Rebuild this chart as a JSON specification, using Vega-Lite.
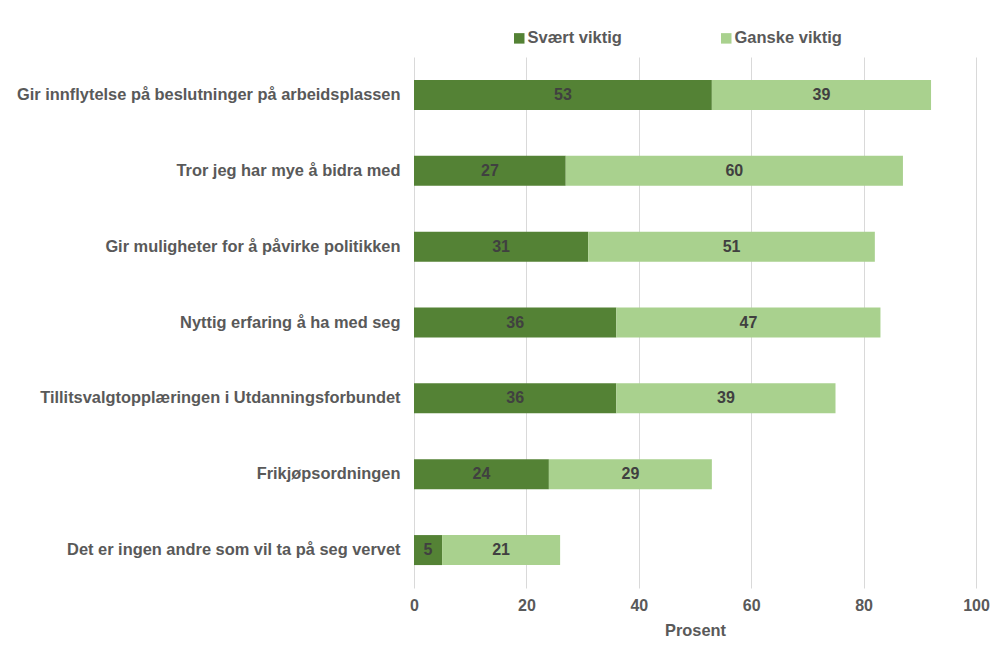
{
  "$schema": "https://vega.github.io/schema/vega-lite/v6.json",
  "width": 562,
  "height": 531,
  "autosize": "none",
  "padding": {"left": 414, "top": 57, "right": 23, "bottom": 63},
  "background": "white",
  "config": {
    "font": "Liberation Sans",
    "view": {"stroke": null}
  },
  "data": {
    "values": [
      {"motiv": "Gir innflytelse på beslutninger på arbeidsplassen", "grad": "Svært viktig", "rank": 1, "prosent": 53},
      {"motiv": "Gir innflytelse på beslutninger på arbeidsplassen", "grad": "Ganske viktig", "rank": 2, "prosent": 39},
      {"motiv": "Tror jeg har mye å bidra med", "grad": "Svært viktig", "rank": 1, "prosent": 27},
      {"motiv": "Tror jeg har mye å bidra med", "grad": "Ganske viktig", "rank": 2, "prosent": 60},
      {"motiv": "Gir muligheter for å påvirke politikken", "grad": "Svært viktig", "rank": 1, "prosent": 31},
      {"motiv": "Gir muligheter for å påvirke politikken", "grad": "Ganske viktig", "rank": 2, "prosent": 51},
      {"motiv": "Nyttig erfaring å ha med seg", "grad": "Svært viktig", "rank": 1, "prosent": 36},
      {"motiv": "Nyttig erfaring å ha med seg", "grad": "Ganske viktig", "rank": 2, "prosent": 47},
      {"motiv": "Tillitsvalgtopplæringen i Utdanningsforbundet", "grad": "Svært viktig", "rank": 1, "prosent": 36},
      {"motiv": "Tillitsvalgtopplæringen i Utdanningsforbundet", "grad": "Ganske viktig", "rank": 2, "prosent": 39},
      {"motiv": "Frikjøpsordningen", "grad": "Svært viktig", "rank": 1, "prosent": 24},
      {"motiv": "Frikjøpsordningen", "grad": "Ganske viktig", "rank": 2, "prosent": 29},
      {"motiv": "Det er ingen andre som vil ta på seg vervet", "grad": "Svært viktig", "rank": 1, "prosent": 5},
      {"motiv": "Det er ingen andre som vil ta på seg vervet", "grad": "Ganske viktig", "rank": 2, "prosent": 21}
    ]
  },
  "transform": [
    {"stack": "prosent", "groupby": ["motiv"], "sort": [{"field": "rank", "order": "ascending"}], "as": ["x0", "x1"]},
    {"calculate": "(datum.x0 + datum.x1) / 2", "as": "midt"}
  ],
  "encoding": {
    "y": {
      "field": "motiv",
      "type": "nominal",
      "sort": null,
      "title": null,
      "scale": {"paddingInner": 0.6, "paddingOuter": 0.3},
      "axis": {
        "domain": false,
        "ticks": false,
        "labelFontSize": 16.4,
        "labelFontWeight": "bold",
        "labelColor": "#595959",
        "labelPadding": 14,
        "labelLimit": 500
      }
    }
  },
  "layer": [
    {
      "mark": {"type": "bar", "size": 30},
      "encoding": {
        "x": {
          "field": "x0",
          "type": "quantitative",
          "scale": {"domain": [0, 100], "nice": false},
          "title": "Prosent",
          "axis": {
            "values": [0, 20, 40, 60, 80, 100],
            "domain": false,
            "ticks": false,
            "grid": true,
            "gridColor": "#d9d9d9",
            "gridWidth": 1,
            "labelFlush": false,
            "labelFontSize": 16,
            "labelFontWeight": "bold",
            "labelColor": "#595959",
            "labelPadding": 9,
            "titleFontSize": 16.4,
            "titleFontWeight": "bold",
            "titleColor": "#595959",
            "titlePadding": 9
          }
        },
        "x2": {"field": "x1"},
        "color": {
          "field": "grad",
          "type": "nominal",
          "scale": {"domain": ["Svært viktig", "Ganske viktig"], "range": ["#548235", "#A9D18E"]},
          "legend": {
            "title": null,
            "orient": "none",
            "direction": "horizontal",
            "legendX": 97,
            "legendY": -27,
            "symbolType": "square",
            "symbolSize": 110,
            "symbolStrokeWidth": 0,
            "symbolOpacity": 1,
            "labelFontSize": 16.5,
            "labelFontWeight": "bold",
            "labelColor": "#595959",
            "labelOffset": 0,
            "columnPadding": 96
          }
        }
      }
    },
    {
      "mark": {"type": "text", "fontSize": 16, "fontWeight": "bold", "color": "#404040", "baseline": "middle", "align": "center"},
      "encoding": {
        "x": {"field": "midt", "type": "quantitative"},
        "text": {"field": "prosent", "type": "quantitative"}
      }
    }
  ]
}
